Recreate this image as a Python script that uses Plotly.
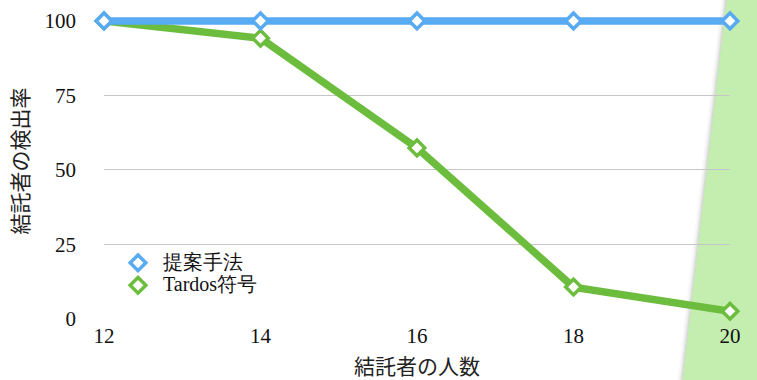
import plotly.graph_objects as go

# ---- data ----
x_colluders = [12, 14, 16, 18, 20]
proposed = [100, 100, 100, 100, 100]
tardos = [100, 94.2, 57.4, 10.7, 2.6]
series_names = ["提案手法", "Tardos符号"]
y_ticks = [0, 25, 50, 75, 100]

BLUE = "#58aaf2"
GREEN = "#6cbd3e"
SERIF = "Liberation Serif"
CJK = "Noto Sans CJK JP"
FS = 21

W, H = 757, 380
X12, X20 = 104, 730
Y0, Y100 = 319.5, 21
ypu = (Y0 - Y100) / 100.0
XR = [12, 20]
YR = [0, 106]
L = X12
R = W - X20
B = H - Y0
T = Y0 - YR[1] * ypu
pw, ph = W - L - R, H - T - B

def px(xp):
    return (xp - L) / pw

def py(yp):
    return (H - B - yp) / ph

fig = go.Figure()

MK = dict(symbol="diamond", size=12, color="white")
for ys, name, col in [(tardos, series_names[1], GREEN), (proposed, series_names[0], BLUE)]:
    fig.add_trace(go.Scatter(
        x=x_colluders, y=ys, mode="lines+markers", name=name, showlegend=False,
        line=dict(color=col, width=7.5),
        marker=dict(**MK, line=dict(color=col, width=3.5)),
        cliponaxis=False, hoverinfo="skip",
    ))
# legend entries (markers only)
for name, col in [(series_names[0], BLUE), (series_names[1], GREEN)]:
    fig.add_trace(go.Scatter(
        x=[None], y=[None], mode="markers",
        name=f'<span style="font-size:20px">{name}</span>',
        marker=dict(**MK, line=dict(color=col, width=3.5)),
    ))

shapes = []
# decorative green background panel on the right
shapes.append(dict(
    type="path", xref="paper", yref="paper", layer="below",
    path=f"M {px(727)} {py(-5)} L {px(765)} {py(-5)} L {px(765)} {py(385)} L {px(682)} {py(385)} Z",
    fillcolor="#c3eeb0", line=dict(width=0),
))
# soft shadow on its left edge
for i, op in enumerate([0.22, 0.14, 0.09, 0.05, 0.03]):
    d = i + 1
    shapes.append(dict(
        type="line", xref="paper", yref="paper", layer="below",
        x0=px(727.5 - d), y0=py(-5), x1=px(682.5 - d), y1=py(385),
        line=dict(color=f"rgba(90,90,90,{op})", width=1.2),
    ))

fig.update_layout(
    width=W, height=H,
    margin=dict(l=L, r=R, t=T, b=B, pad=0),
    paper_bgcolor="white", plot_bgcolor="rgba(0,0,0,0)",
    font=dict(family=SERIF, color="#111111", size=FS),
    shapes=shapes,
    showlegend=True,
    legend=dict(
        x=px(113), y=py(247), xanchor="left", yanchor="top",
        bgcolor="rgba(0,0,0,0)", font=dict(size=15, family=SERIF, color="#111111"),
        itemwidth=40, tracegroupgap=0,
    ),
    xaxis=dict(
        range=XR, tickvals=x_colluders, showgrid=False, zeroline=False,
        showline=False, ticks="", tickfont=dict(size=FS, family=SERIF, color="#111111"),
        ticklabelstandoff=2,
        title=dict(text="結託者の人数", font=dict(size=FS, family=CJK, color="#222222"), standoff=12),
    ),
    yaxis=dict(
        range=YR, tickvals=y_ticks, showgrid=True, gridcolor="#c6c6c6", gridwidth=1,
        zeroline=False, showline=False, ticks="", tickfont=dict(size=FS, family=SERIF, color="#111111"),
        ticklabelstandoff=27,
        title=dict(text="結託者の検出率", font=dict(size=FS, family=CJK, color="#222222"), standoff=10),
    ),
)

fig.write_html("out.html")
